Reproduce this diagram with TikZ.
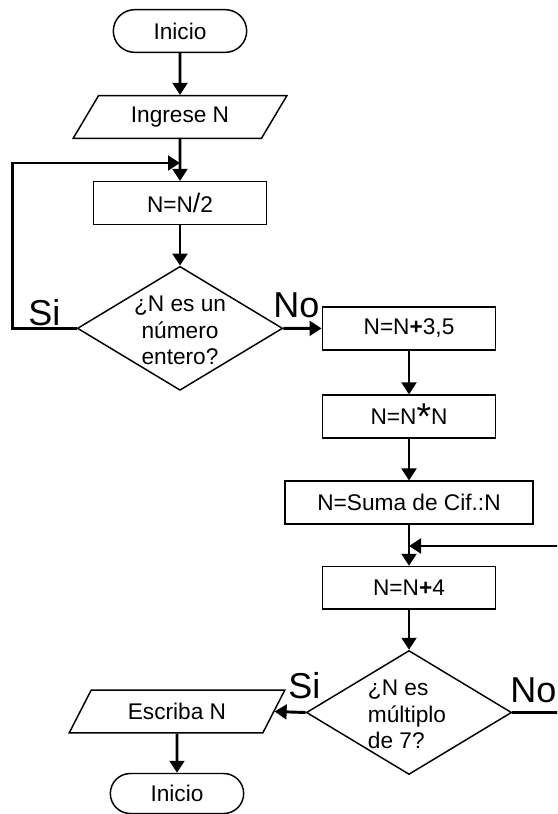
\documentclass[tikz,border=0pt]{standalone}
\usepackage{fontspec}
\setmainfont{Liberation Sans}
\usetikzlibrary{positioning, arrows.meta, shapes.geometric, shapes.misc}

\tikzset{
    base/.style={draw, line width=1.1pt, inner sep=0pt, font=\fontsize{17}{20}\selectfont},
    inicio/.style={base, rounded rectangle, minimum width=100pt, minimum height=32pt},
    datos/.style={base, trapezium, trapezium left angle=53, trapezium right angle=127,
        trapezium stretches=true, minimum width=161pt, minimum height=32pt},
    proceso/.style={base, rectangle, minimum width=130pt, minimum height=32pt},
    decision/.style={base, diamond, minimum width=154pt, minimum height=93pt},
    texto/.style={inner sep=0pt, align=center, font=\fontsize{17}{20}\selectfont},
    rotulo/.style={inner sep=0pt, anchor=base west, font=\fontsize{27}{30}\selectfont},
    flecha/.style={-{Triangle[length=9pt,width=11pt]}, line width=2.2pt}
}

\begin{document}
\begin{tikzpicture}[x=0.75pt, y=-0.75pt]
    \useasboundingbox (0,0) rectangle (557,814);
    \clip (0,0) rectangle (557,814);

    % columna izquierda
    \node[inicio] (1) at (180,31) {Inicio};
    \node[datos, below of=1, node distance=64.5pt] (2) {Ingrese N};
    \node[proceso, below of=2, node distance=64.5pt] (3) {N=N{\fontsize{20}{20}\selectfont/}2};
    \node[decision, below of=3, node distance=94pt] (4) {};
    \node[texto] (4t) at ([yshift=-1.5pt]4.center) {¿N es un\\número\\entero?};

    % columna derecha
    \node[proceso] (5) at (409,328.5) {N=N\textbf{+}3,5};
    \node[proceso, below of=5, node distance=66pt] (6) {N=N\raisebox{-4pt}{\fontsize{28}{28}\selectfont *}N};
    \node[proceso, below of=6, node distance=64.5pt, minimum width=186pt] (7) {N=Suma de Cif.:N};
    \node[proceso, below of=7, node distance=64pt] (8) {N=N\textbf{+}4};
    \node[decision, below of=8, node distance=93.5pt] (9) {};
    \node[texto, align=left, anchor=west] (9t) at ([xshift=-31pt,yshift=-1.5pt]9.center) {¿N es\\múltiplo\\de 7?};

    % salida
    \node[datos, minimum width=162pt] (10) at (177,711.5) {Escriba N};
    \node[inicio, below of=10, node distance=61.5pt, minimum height=30pt] (11) {Inicio};

    \node[rotulo] (12) at (28,325) {Si};
    \node[rotulo] (13) at (273,317) {No};
    \node[rotulo] (14) at (288,698) {Si};
    \node[rotulo] (15) at (510,702) {No};

    \coordinate (a) at (180,163);
    \coordinate (b) at (409,546);

    \draw[flecha] (1) -- (2);
    \draw[flecha] (2) -- (3);
    \draw[flecha] (3) -- (4);
    \draw[flecha] (4.west) -- ++(-64,0) |- (a);
    \draw[flecha] (4.east) -- (5);
    \draw[flecha] (5) -- (6);
    \draw[flecha] (6) -- (7);
    \draw[flecha] (7) -- (8);
    \draw[flecha] (8) -- (9);
    \draw[flecha] (9.east) -- ++(70,0) |- (b);
    \draw[flecha] (9.west) -- (10.east);
    \draw[flecha] (10) -- (11);
\end{tikzpicture}
\end{document}
